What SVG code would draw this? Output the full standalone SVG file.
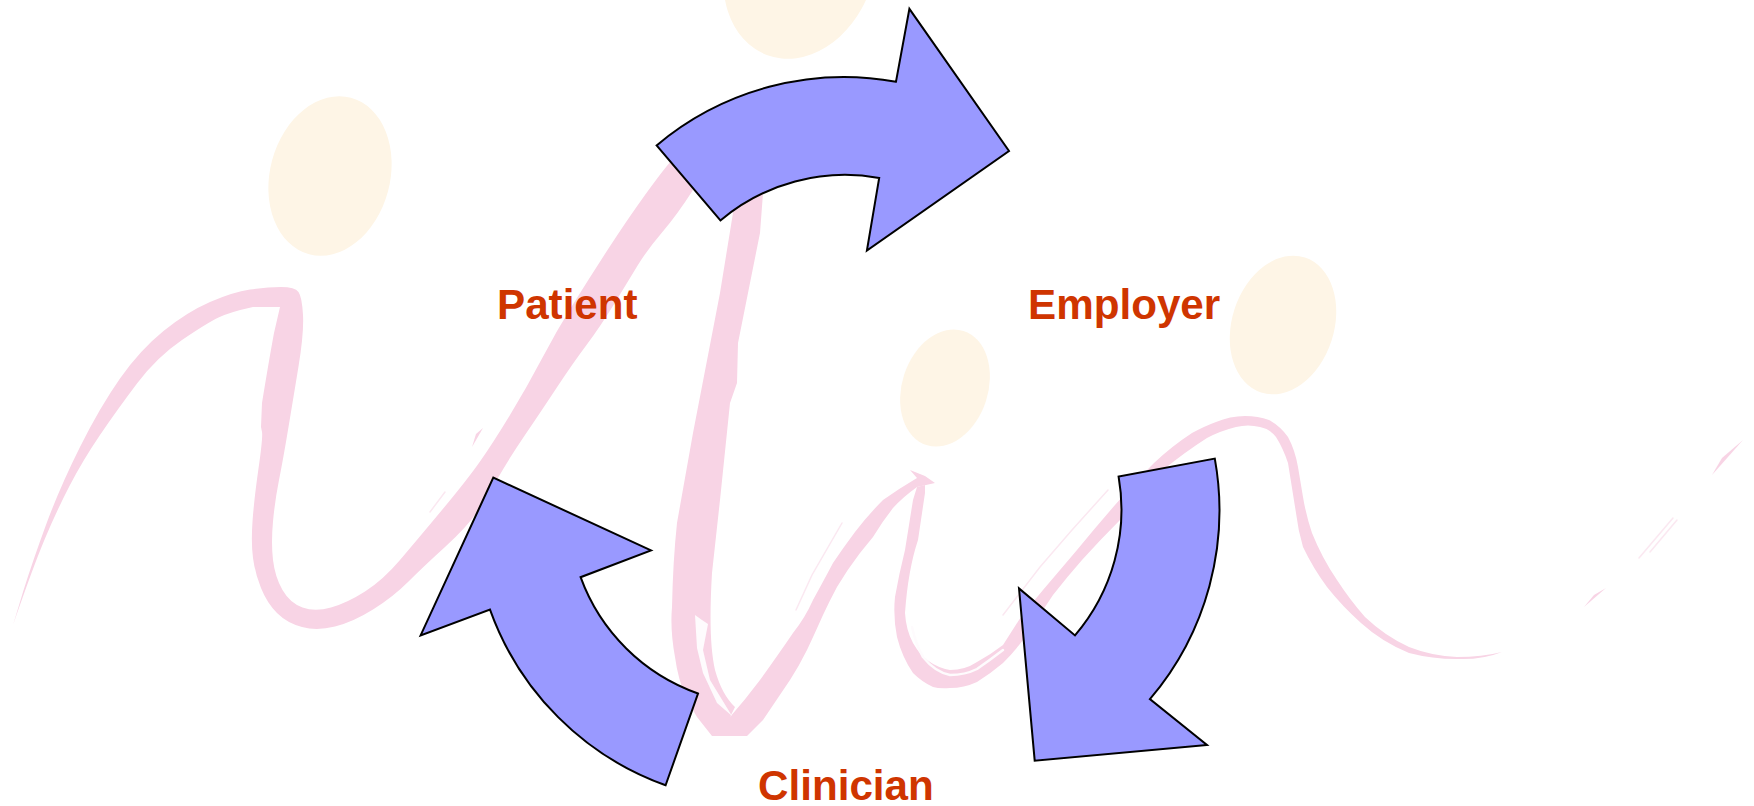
<svg xmlns="http://www.w3.org/2000/svg" width="1754" height="806" viewBox="0 0 1754 806">
<style>
.brush{fill:#F8D4E5}
.streak{fill:#FEFBFD}
.thin{fill:none;stroke:#FBE8F1;stroke-width:1.5;stroke-linecap:round}
.line{fill:none;stroke:#FEFBFD;stroke-width:2.5;stroke-linecap:round;stroke-linejoin:round}
.head{fill:#FEF5E6}
.arrow{fill:#9999FF;stroke:#000;stroke-width:2;stroke-linejoin:miter}
.label{font-family:"Liberation Sans",Arial,sans-serif;font-weight:700;font-size:42.2px;fill:#CF3500}
</style>
<rect width="1754" height="806" fill="#FFFFFF"/>
<g id="background">
<ellipse class="head" cx="330" cy="176" rx="60" ry="81" transform="rotate(15 330 176)"/>
<ellipse class="head" cx="800" cy="-34" rx="74" ry="95" transform="rotate(20 800 -34)"/>
<ellipse class="head" cx="945" cy="388" rx="43" ry="60" transform="rotate(18 945 388)"/>
<ellipse class="head" cx="1283" cy="325" rx="51" ry="71" transform="rotate(18 1283 325)"/>
<path class="brush" d="M13,625 L23,592 Q33,560 46.5,523.5 Q60,487 80,447 Q100,407 120,378.5 Q140,350 163.5,331 Q187,312 210,302 Q233,292 250,289.5 Q267,287 281,287 Q295,287 298.5,292 Q302,297 303,315 Q304,333 298.5,366.5 Q293,400 288,430 Q283,460 279,480 Q275,500 273,521.5 Q271,543 273,560 Q275,577 282.5,590 Q290,603 302.5,607.5 Q315,612 331,607.5 Q347,603 365,591.5 Q383,580 400,560 Q417,540 442,510 Q467,480 480,461.5 Q493,443 510,415 Q527,387 542,358.5 Q557,330 573.5,303.5 Q590,277 608.5,248.5 Q627,220 645,195 Q663,170 672,160 L693,190 Q677,215 662,232.5 Q647,250 637,266.5 Q627,283 613.5,305 Q600,327 586.5,345 Q573,363 556.5,388 Q540,413 525,435 Q510,457 498.5,477 Q487,497 477,512 Q467,527 445,547 Q423,567 408,582 Q393,597 373,609.5 Q353,622 335,626.5 Q317,631 302,627 Q287,623 277,613 Q267,603 261,588 Q255,573 253,558 Q251,543 252.5,521.5 Q254,500 258.5,468.5 Q263,437 262,432 L261,427 L262,403 Q269,360 274,333 L280,307 L253,307 Q230,312 218.5,317.5 Q207,323 182,340 Q157,357 137,383.5 Q117,410 100,435 Q83,460 70,485 Q57,510 45,538.5 Q33,567 13,625 Z"/>
<path class="brush" d="M735,180 L764,180 L760,233 L738,343 L737,383 L730,403 L720,500 L712,573 Q708,640 715,670 Q722,695 735,707 L730,717 Q745,700 760,680 Q778,655 793,633 Q805,618 813,600 Q824,580 833,563 Q843,548 855,532 Q868,515 883,500 Q900,488 917,478 L910,470 L925,476 L935,483 L917,487 Q903,497 893,508 Q882,522 873,537 L860,553 Q847,570 837,587 Q830,600 823,615 Q815,633 807,650 Q799,666 790,680 L763,720 L747,736 L712,736 L697,717 L687,700 Q678,680 675,657 Q670,630 672,607 Q673,560 677,523 L693,433 L720,293 L733,213 Z"/>
<path class="brush" d="M925,485 L925,493 L918,540 Q908,570 905,613 Q906,630 913,643 Q920,655 927,660 Q938,668 950,670 Q965,670 977,662 Q990,655 1003,645 L1019,620 Q1030,605 1043,590 Q1060,570 1077,550 Q1095,528 1115,505 Q1135,482 1154,463 Q1172,446 1192,433 Q1205,426 1216,422 Q1230,416 1245,416 Q1258,416 1269,420 Q1280,426 1288,437 Q1295,450 1298,467 L1303,497 Q1306,515 1312,533 Q1322,558 1337,580 Q1350,600 1365,617 Q1385,636 1409,647 Q1432,656 1457,657 Q1482,657 1502,652 Q1482,660 1457,659 Q1432,659 1409,653 Q1382,642 1361,623 Q1342,606 1327,587 Q1313,568 1303,547 Q1298,530 1296,513 L1288,463 Q1283,448 1276,437 Q1270,429 1260,427 Q1248,424 1236,427 Q1220,431 1207,438 Q1185,452 1163,470 Q1140,495 1120,520 Q1100,540 1082,560 Q1067,577 1053,595 L1023,640 Q1014,652 1003,663 Q990,674 977,682 Q964,688 950,688 Q940,689 933,687 Q922,682 913,673 Q902,657 897,637 Q893,617 895,597 Q899,574 905,550 L913,500 L917,487 Z"/>
<path class="streak" d="M695,615 L702,620 L708,624 L703,650 L710,680 L732,716 L717,703 L703,673 L697,648 Z"/>
<path class="line" d="M912,627 Q916,645 923,657 Q935,672 950,675 Q965,675 977,669 Q990,660 1003,650"/>
<path class="thin" d="M1108,490 L1072,530 L1040,567 L1003,615"/>
<path class="thin" d="M842,523 L812,575 L796,610"/>
<path class="brush" d="M1743,440 L1712,475 L1722,458 Z"/>
<path class="thin" d="M1673,518 L1639,558"/>
<path class="thin" d="M1677,520 L1650,552"/>
<path class="brush" d="M1606,588 L1584,607 L1594,595 Z"/>
<path class="brush" d="M483,428 L472,447 L476,434 Z"/>
<path class="thin" d="M445,492 L430,512"/>
</g>
<g id="connectors">
<path class="arrow" d="M656.6,145.4 A291,291 0 0 1 896,81.7 L909.4,8.9 L1009,151 L866.9,250.6 L879.2,177.9 A193.5,193.5 0 0 0 720.4,220.4 Z"/>
<path class="arrow" d="M1214.8,458.6 A291,291 0 0 1 1149.9,699.1 L1207,745 L1034.7,760.7 L1019,588.4 L1075,635.4 A193.5,193.5 0 0 0 1118.6,476.5 Z"/>
<path class="arrow" d="M665.6,785.3 A291,291 0 0 1 490,609.6 L420.6,635.4 L493.3,477.6 L651,550.4 L580.6,577.2 A193.5,193.5 0 0 0 698,693.5 Z"/>
</g>
<g id="patient"><text class="label" x="497" y="319">Patient</text></g>
<g id="employer"><text class="label" x="1028" y="319">Employer</text></g>
<g id="clinician"><text class="label" x="758" y="800">Clinician</text></g>
</svg>
